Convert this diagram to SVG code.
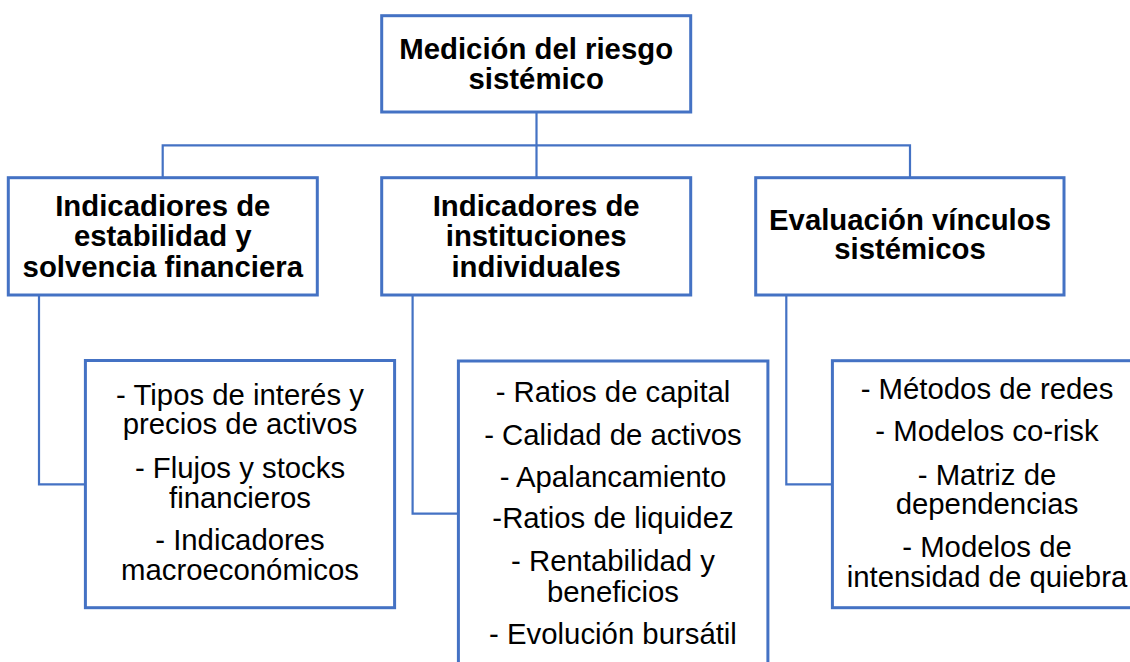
<svg xmlns="http://www.w3.org/2000/svg" width="1130" height="662" viewBox="0 0 1130 662">
<style>
.box{fill:#ffffff;stroke:#4472C4;stroke-width:3}
.con{fill:none;stroke:#4472C4;stroke-width:2.2}
.t{font-family:"Liberation Sans",Arial,sans-serif;font-size:29.33px;fill:#000000;text-anchor:middle}
.b{font-weight:bold}
</style>
<rect width="1130" height="662" fill="#ffffff"/>
<g id="connectors">
<path class="con" d="M536.5 112 V145.3 M162.7 177.7 V145.3 H910 V177.7 M536.5 145.3 V177.7"/>
<path class="con" d="M39 295 V484.3 H85.4"/>
<path class="con" d="M412.6 295 V513.7 H458.4"/>
<path class="con" d="M786.3 295 V484.3 H832.4"/>
</g>
<g id="root">
<rect class="box" x="381.7" y="15.7" width="309" height="96.3"/>
<text class="t b" x="536.2" y="59">Medición del riesgo</text>
<text class="t b" x="536.2" y="89.3">sistémico</text>
</g>
<g id="estabilidad">
<rect class="box" x="8.3" y="177.7" width="309" height="117.3"/>
<text class="t b" x="162.8" y="216">Indicadiores de</text>
<text class="t b" x="162.8" y="245.7">estabilidad y</text>
<text class="t b" x="162.8" y="276.7">solvencia financiera</text>
</g>
<g id="instituciones">
<rect class="box" x="381.7" y="177.7" width="309" height="117.3"/>
<text class="t b" x="536.2" y="215.5">Indicadores de</text>
<text class="t b" x="536.2" y="245.5">instituciones</text>
<text class="t b" x="536.2" y="276.5">individuales</text>
</g>
<g id="vinculos">
<rect class="box" x="755.7" y="177.7" width="308.3" height="117.3"/>
<text class="t b" x="910" y="230">Evaluación vínculos</text>
<text class="t b" x="910" y="259.3">sistémicos</text>
</g>
<g id="detalle-estabilidad">
<rect class="box" x="85.4" y="360.5" width="309.2" height="247.2"/>
<text class="t" x="240" y="405">- Tipos de interés y</text>
<text class="t" x="240" y="434.3">precios de activos</text>
<text class="t" x="240" y="477.7">- Flujos y stocks</text>
<text class="t" x="240" y="507.7">financieros</text>
<text class="t" x="240" y="550">- Indicadores</text>
<text class="t" x="240" y="580.3">macroeconómicos</text>
</g>
<g id="detalle-instituciones">
<rect class="box" x="458.4" y="361" width="309.5" height="320"/>
<text class="t" x="613" y="402">- Ratios de capital</text>
<text class="t" x="613" y="445.3">- Calidad de activos</text>
<text class="t" x="613" y="487">- Apalancamiento</text>
<text class="t" x="613" y="527.7">-Ratios de liquidez</text>
<text class="t" x="613" y="570.5">- Rentabilidad y</text>
<text class="t" x="613" y="601.5">beneficios</text>
<text class="t" x="613" y="643.5">- Evolución bursátil</text>
</g>
<g id="detalle-vinculos">
<rect class="box" x="832.4" y="360.7" width="310" height="247"/>
<text class="t" x="987" y="399.3">- Métodos de redes</text>
<text class="t" x="987" y="440.7">- Modelos co-risk</text>
<text class="t" x="987" y="484.5">- Matriz de</text>
<text class="t" x="987" y="514">dependencias</text>
<text class="t" x="987" y="556.5">- Modelos de</text>
<text class="t" x="987" y="587.3">intensidad de quiebra</text>
</g>
</svg>
